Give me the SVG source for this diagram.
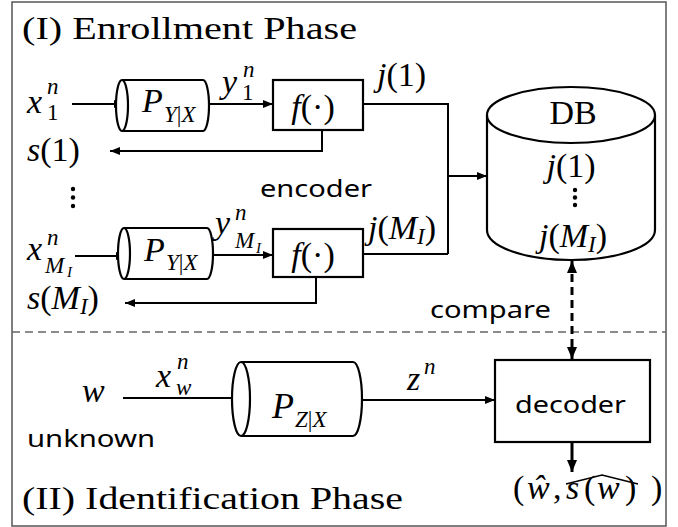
<svg xmlns="http://www.w3.org/2000/svg" width="678" height="527" viewBox="0 0 678 527">
<style>
.ln{fill:none;stroke:#000;stroke-width:2}
.shape{fill:#fff;stroke:#000;stroke-width:2.2}
.m{font-family:"Liberation Serif",serif;font-size:34px;fill:#000}
.i{font-style:italic}
.sb{font-size:23px}
.ss{font-size:15px}
.ttl{font-family:"Liberation Serif",serif;font-size:31px;fill:#000}
.sans{font-family:"Noto Sans","Open Sans",sans-serif;font-size:24px;fill:#000}
</style>
<defs>
<marker id="ah" markerUnits="userSpaceOnUse" markerWidth="10" markerHeight="8" refX="10" refY="4" orient="auto"><path d="M0,0 L10,4 L0,8 z" fill="#000"/></marker>
<marker id="ahb" markerUnits="userSpaceOnUse" markerWidth="12" markerHeight="10" refX="12" refY="5" orient="auto-start-reverse"><path d="M0,0 L12,5 L0,10 z" fill="#000"/></marker>
</defs>
<rect x="12" y="2" width="654" height="524" fill="#fff" stroke="#555" stroke-width="1.5"/>
<line x1="12" y1="332" x2="666" y2="332" stroke="#666" stroke-width="1.5" stroke-dasharray="8,5"/>
<text class="ttl" x="22" y="39" textLength="335" lengthAdjust="spacingAndGlyphs" font-size="30">(I) Enrollment Phase</text>
<text class="ttl" x="22" y="509" textLength="381" lengthAdjust="spacingAndGlyphs" font-size="30">(II) Identification Phase</text>

<g id="connectors">
<line class="ln" x1="72" y1="104" x2="124" y2="104" marker-end="url(#ah)"/>
<line class="ln" x1="209" y1="104" x2="273" y2="104" marker-end="url(#ah)"/>
<polyline class="ln" points="363,104 448,104 448,254"/>
<line class="ln" x1="363" y1="254" x2="448" y2="254"/>
<line class="ln" x1="448" y1="176" x2="487" y2="176" marker-end="url(#ah)"/>
<polyline class="ln" points="322,130 322,151 110,151" marker-end="url(#ah)"/>
<line class="ln" x1="75" y1="256" x2="126" y2="256" marker-end="url(#ah)"/>
<line class="ln" x1="213" y1="255" x2="273" y2="255" marker-end="url(#ah)"/>
<polyline class="ln" points="316,277 316,303 125,303" marker-end="url(#ah)"/>
<line class="ln" x1="123" y1="398" x2="243" y2="398" marker-end="url(#ah)"/>
<line class="ln" x1="362" y1="400" x2="495" y2="400" marker-end="url(#ah)"/>
<line x1="572" y1="261" x2="572" y2="359" stroke="#000" stroke-width="3" stroke-dasharray="8,5" marker-start="url(#ahb)" marker-end="url(#ahb)"/>
<line x1="572" y1="443" x2="572" y2="472" stroke="#000" stroke-width="3" marker-end="url(#ahb)"/>
</g>

<g id="input1">
<text class="m"><tspan class="i" x="27" y="113">x</tspan><tspan class="i sb" x="47" y="94">n</tspan><tspan class="sb" x="47" y="120">1</tspan></text>
<text class="m" x="27" y="161"><tspan class="i">s</tspan>(1)</text>
</g>
<g id="channel1">
<path class="shape" d="M122,80 H203 A6,25.5 0 0 1 203,131 H122"/>
<ellipse class="shape" cx="122" cy="105.5" rx="6" ry="25.5"/>
<text class="m"><tspan class="i" x="142" y="112">P</tspan><tspan class="i sb" x="164" y="122">Y</tspan><tspan class="sb">|</tspan><tspan class="i sb">X</tspan></text>
<text class="m"><tspan class="i" x="222" y="93">y</tspan><tspan class="i sb" x="243" y="77">n</tspan><tspan class="sb" x="242" y="100">1</tspan></text>
</g>
<g id="encoder1">
<rect class="shape" x="273" y="80" width="90" height="50"/>
<text class="m" x="313" y="118" text-anchor="middle"><tspan class="i">f</tspan>(·)</text>
<text class="m" x="377" y="86"><tspan class="i">j</tspan>(1)</text>
</g>

<g id="dots">
<circle cx="73" cy="189" r="2.2"/><circle cx="73" cy="197.5" r="2.2"/><circle cx="73" cy="206" r="2.2"/>
</g>
<text class="sans" x="260" y="197" textLength="112" lengthAdjust="spacingAndGlyphs">encoder</text>

<g id="input2">
<text class="m"><tspan class="i" x="27" y="260">x</tspan><tspan class="i sb" x="47" y="245">n</tspan><tspan class="i sb" x="45" y="273">M</tspan><tspan class="i ss" x="67" y="277">I</tspan></text>
<text class="m" x="27" y="309"><tspan class="i">s</tspan>(<tspan class="i">M</tspan><tspan class="i sb" dy="5">I</tspan><tspan dy="-5">)</tspan></text>
</g>
<g id="channel2">
<path class="shape" d="M124,228 H207 A6,25.5 0 0 1 207,279 H124"/>
<ellipse class="shape" cx="124" cy="253.5" rx="6" ry="25.5"/>
<text class="m"><tspan class="i" x="144" y="261">P</tspan><tspan class="i sb" x="166" y="270">Y</tspan><tspan class="sb">|</tspan><tspan class="i sb">X</tspan></text>
<text class="m"><tspan class="i" x="215" y="234">y</tspan><tspan class="i sb" x="235" y="220">n</tspan><tspan class="i sb" x="235" y="248">M</tspan><tspan class="i ss" x="256" y="253">I</tspan></text>
</g>
<g id="encoder2">
<rect class="shape" x="273" y="229" width="90" height="48"/>
<text class="m" x="313" y="266" text-anchor="middle"><tspan class="i">f</tspan>(·)</text>
<text class="m" x="368" y="239"><tspan class="i">j</tspan>(<tspan class="i">M</tspan><tspan class="i sb" dy="5">I</tspan><tspan dy="-5">)</tspan></text>
</g>

<g id="db">
<path class="shape" d="M487,115 V230 A84,30 0 0 0 655,230 V115"/>
<ellipse class="shape" cx="571" cy="115" rx="84" ry="28"/>
<text class="m" x="573" y="124" text-anchor="middle" font-size="31">DB</text>
<text class="m" x="571" y="177" text-anchor="middle"><tspan class="i">j</tspan>(1)</text>
<circle cx="575" cy="190" r="2.2"/><circle cx="575" cy="197.5" r="2.2"/><circle cx="575" cy="205" r="2.2"/>
<text class="m" x="573" y="247" text-anchor="middle"><tspan class="i">j</tspan>(<tspan class="i">M</tspan><tspan class="i sb" dy="5">I</tspan><tspan dy="-5">)</tspan></text>
</g>
<text class="sans" x="430" y="318" textLength="121" lengthAdjust="spacingAndGlyphs">compare</text>

<g id="input3">
<text class="m i" x="82" y="402" font-size="35">w</text>
<text class="sans" x="27" y="447" textLength="128" lengthAdjust="spacingAndGlyphs">unknown</text>
<text class="m"><tspan class="i" x="156" y="387">x</tspan><tspan class="i sb" x="177" y="369">n</tspan><tspan class="i sb" x="176" y="395">w</tspan></text>
</g>
<g id="channel3">
<path class="shape" d="M241,362 H353 A9,37 0 0 1 353,436 H241"/>
<ellipse class="shape" cx="241" cy="399" rx="9" ry="37"/>
<text class="m"><tspan class="i" x="272" y="418" font-size="36">P</tspan><tspan class="i sb" x="295" y="427" font-size="24">Z</tspan><tspan class="sb" font-size="24">|</tspan><tspan class="i sb" font-size="24">X</tspan></text>
<text class="m"><tspan class="i" x="407" y="390">z</tspan><tspan class="i sb" x="424" y="374">n</tspan></text>
</g>
<g id="decoder">
<rect class="shape" x="495" y="360" width="155" height="82"/>
<text class="sans" x="515" y="413" font-size="26" textLength="111" lengthAdjust="spacingAndGlyphs">decoder</text>
</g>
<g id="output">
<text class="m" font-size="34"><tspan x="513" y="499">(</tspan><tspan class="i" x="527">ŵ</tspan><tspan x="553">,</tspan><tspan class="i" x="566">s</tspan><tspan x="584">(</tspan><tspan class="i" x="597">w</tspan><tspan x="625">)</tspan><tspan x="651">)</tspan></text>
<path d="M566,484 L602,475 L638,484" fill="none" stroke="#000" stroke-width="1.6"/>
</g>
</svg>
